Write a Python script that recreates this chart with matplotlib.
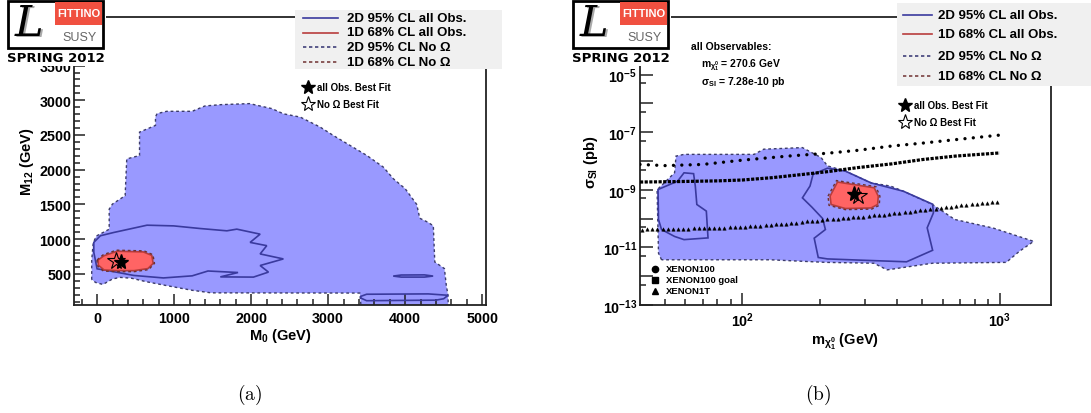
import numpy as np
import matplotlib.pyplot as plt
import matplotlib.transforms as mtransforms
from matplotlib.patches import Rectangle
from matplotlib.lines import Line2D
from matplotlib.ticker import FixedLocator, FuncFormatter, NullFormatter, MultipleLocator

plt.rcParams['font.family'] = ['Liberation Sans', 'DejaVu Sans']
plt.rcParams['font.weight'] = 'bold'
plt.rcParams['axes.labelweight'] = 'bold'
plt.rcParams['mathtext.fontset'] = 'custom'
plt.rcParams['mathtext.rm'] = 'Liberation Sans:bold'
plt.rcParams['mathtext.it'] = 'Liberation Sans:bold:italic'
plt.rcParams['mathtext.bf'] = 'Liberation Sans:bold'
plt.rcParams['mathtext.sf'] = 'Liberation Sans:bold'

# ---------------- panel (a): M0 / M12 plane (GeV) ----------------
outer_a_m0 = [-70, -70, -50, -8, 157, 157, 199, 364, 385, 551, 551, 758, 758, 778, 903,
              1234, 1400, 1607, 1979, 2269, 2420, 2637, 2896, 3067, 3285, 3502, 3717, 3847,
              4001, 4090, 4150, 4190, 4300, 4366, 4385, 4510, 4535, 4557, 4560, 3430, 3411,
              1482, 1234, 900, 640, 450, 300, 200, 75, -20]
outer_a_m12 = [418, 700, 949, 1045, 1142, 1431, 1504, 1625, 2155, 2204, 2541, 2638, 2759, 2807, 2841,
               2841, 2918, 2937, 2952, 2880, 2805, 2758, 2614, 2493, 2349, 2205, 2037, 1869,
               1725, 1590, 1500, 1300, 1240, 1190, 670, 575, 330, 190, 0, 0, 222,
               225, 262, 330, 385, 435, 448, 425, 346, 375]

inner_a_m0 = [-43, 43, 216, 648, 994, 1339, 1685, 1814, 2117, 1987, 2203, 2117, 2419, 2117,
              2225, 2030, 1600, 1830, 1440, 1234, 861, 475, 130, 0, -43]
inner_a_m12 = [952, 1048, 1095, 1200, 1190, 1152, 1119, 1143, 1071, 952, 905, 786, 714, 619,
               524, 452, 455, 518, 540, 470, 440, 476, 548, 571, 810]

island_a_m0 = [3845, 3950, 4250, 4363, 4250, 3950]
island_a_m12 = [467, 482, 484, 467, 452, 452]

strip_a_m0 = [3425, 3500, 4300, 4557, 4500, 4400, 3500, 3425]
strip_a_m12 = [175, 205, 210, 190, 140, 120, 112, 150]

red_a_m0 = [15, 90, 260, 600, 710, 728, 660, 480, 260, 90, 15]
red_a_m12 = [700, 760, 825, 815, 765, 650, 575, 545, 545, 555, 625]
red2_a_m0 = [0, 80, 250, 610, 725, 745, 670, 480, 250, 80, 0]
red2_a_m12 = [700, 775, 840, 830, 775, 650, 560, 530, 530, 540, 620]

best_a = (313, 672)
best_noomega_a = (240, 690)

# ---------------- panel (b): neutralino mass (GeV) / log10 sigma_SI (pb) ----------------
outer_b_m = [48.5, 47.2, 46.6, 54.5, 55.2, 59.3, 111, 121, 171, 202, 214, 251, 316, 376, 422,
             547, 668, 944, 1353, 1189, 1059, 547, 365, 324, 211, 128]
outer_b_ls = [-11.43, -11.2, -9.0, -8.41, -7.83, -7.77, -7.77, -7.59, -7.535, -7.88, -8.17,
              -8.35, -8.76, -8.87, -9.05, -9.51, -10.03, -10.33, -10.79, -11.14, -11.52,
              -11.55, -11.78, -11.55, -11.52, -11.43]

inner_b_left_m = [47, 56, 59.3, 64.6, 65.6, 66.5, 72.4, 73.5, 59.3, 54.5, 48.5, 47.2]
inner_b_left_ls = [-8.99, -8.70, -8.41, -8.44, -8.87, -9.51, -9.74, -10.67, -10.73, -10.62,
                   -10.38, -10.03]

inner_b_right_m = [188, 183, 171, 186, 205, 210, 190, 197, 214, 282, 434, 548, 522, 552, 548,
                   422, 316, 251, 214, 200]
inner_b_right_ls = [-8.47, -8.87, -9.28, -9.6, -10.0, -10.38, -10.68, -11.35, -11.4, -11.44,
                    -11.5, -11.1, -10.32, -9.8, -9.5, -9.05, -8.76, -8.35, -8.25, -8.36]

red_b_m = [219, 234, 325, 337, 335, 316, 251, 221]
red_b_ls = [-9.22, -8.73, -8.93, -9.22, -9.51, -9.63, -9.65, -9.51]
red2_b_m = [215, 232, 330, 342, 340, 318, 251, 217]
red2_b_ls = [-9.22, -8.68, -8.89, -9.22, -9.54, -9.67, -9.69, -9.54]

best_b = (270.6, 7.28e-10)
best_noomega_b = (281, 6.3e-10)

xenon100_m = [40, 50, 70, 100, 150, 214, 280, 380, 500, 670, 1000]
xenon100_ls = [-8.12, -8.16, -8.12, -7.97, -7.83, -7.73, -7.63, -7.48, -7.38, -7.26, -7.10]

xenon100goal_m = [40, 50, 60, 80, 100, 130, 170, 214, 280, 380, 500, 670, 1000]
xenon100goal_ls = [-8.73, -8.72, -8.71, -8.69, -8.66, -8.58, -8.47, -8.37, -8.23, -8.10,
                   -7.95, -7.83, -7.72]

xenon1t_lm = [1.61, 1.63, 1.65, 1.67, 1.69, 1.71, 1.73, 1.75, 1.77, 1.79, 1.81, 1.83, 1.85,
              1.87, 1.89, 1.91, 1.93, 1.95, 1.97, 1.99, 2.01, 2.03, 2.05, 2.07, 2.09, 2.11,
              2.13, 2.15, 2.17, 2.19, 2.21, 2.23, 2.25, 2.27, 2.29, 2.31, 2.33, 2.35, 2.37,
              2.39, 2.41, 2.43, 2.45, 2.47, 2.49, 2.51, 2.53, 2.55, 2.57, 2.59, 2.61, 2.63,
              2.65, 2.67, 2.69, 2.71, 2.73, 2.75, 2.77, 2.79, 2.81, 2.83, 2.85, 2.87, 2.89,
              2.91, 2.93, 2.95, 2.97, 2.99]
xenon1t_ls = [-10.38, -10.37, -10.37, -10.37, -10.36, -10.36, -10.36, -10.36, -10.35, -10.35,
              -10.34, -10.34, -10.33, -10.32, -10.32, -10.31, -10.31, -10.30, -10.30, -10.29,
              -10.28, -10.27, -10.26, -10.24, -10.23, -10.22, -10.20, -10.19, -10.18, -10.16,
              -10.14, -10.12, -10.10, -10.09, -10.07, -10.05, -10.03, -10.02, -10.00, -9.99,
              -9.97, -9.96, -9.94, -9.93, -9.91, -9.89, -9.87, -9.86, -9.84, -9.82, -9.80,
              -9.78, -9.76, -9.73, -9.71, -9.69, -9.67, -9.65, -9.63, -9.61, -9.59, -9.57,
              -9.54, -9.52, -9.51, -9.49, -9.47, -9.45, -9.43, -9.41]

legend_labels = ['2D 95% CL all Obs.', '1D 68% CL all Obs.', '2D 95% CL No Ω', '1D 68% CL No Ω']
xenon_labels = ['XENON100', 'XENON100 goal', 'XENON1T']

FILL_BLUE = '#9999ff'
LINE_BLUE = '#3a3a9e'
DOT_EDGE = '#3c3c6a'
FILL_RED = '#ff6464'
LINE_RED = '#b83c3c'

W, H = 1091, 414
fig = plt.figure(figsize=(W / 100, H / 100), dpi=100)
px = mtransforms.Affine2D().scale(1 / W, -1 / H).translate(0, 1) + fig.transFigure


def frac(l, t, r, b):
    return [l / W, 1 - b / H, (r - l) / W, (b - t) / H]


axa = fig.add_axes(frac(74, 18, 486, 306))
axb = fig.add_axes(frac(640, 18, 1051, 306))

for ax in (axa, axb):
    for s in ax.spines.values():
        s.set_linewidth(1.3)
        s.set_color('#222222')
    ax.tick_params(which='both', direction='in', top=False, right=False,
                   color='#222222', width=1.1, labelsize=10.3)

# ---- panel (a)
axa.fill(outer_a_m0, outer_a_m12, fc=FILL_BLUE, ec=DOT_EDGE, lw=1.0, ls=(0, (2, 2)), zorder=1)
axa.fill(inner_a_m0, inner_a_m12, fill=False, ec=LINE_BLUE, lw=1.2, zorder=2)
axa.fill(island_a_m0, island_a_m12, fill=False, ec=LINE_BLUE, lw=1.2, zorder=2)
axa.fill(strip_a_m0, strip_a_m12, fill=False, ec=LINE_BLUE, lw=1.2, zorder=2)
axa.fill(red_a_m0, red_a_m12, fc=FILL_RED, ec=LINE_RED, lw=1.2, zorder=3)
axa.fill(red2_a_m0, red2_a_m12, fill=False, ec='#6e3030', lw=1.0, ls=(0, (2, 2)), zorder=3)
axa.plot(*best_noomega_a, marker='*', ms=13, mfc='none', mec='k', mew=0.8, ls='none', zorder=5)
axa.plot(*best_a, marker='*', ms=11, color='k', ls='none', zorder=5)

axa.set_xlim(-300, 5050)
axa.set_ylim(50, 4200)
axa.xaxis.set_major_locator(FixedLocator([0, 1000, 2000, 3000, 4000, 5000]))
axa.xaxis.set_minor_locator(MultipleLocator(200))
axa.yaxis.set_major_locator(MultipleLocator(500))
# the 4000 label sits under the logo, as in the original
axa.yaxis.set_major_formatter(FuncFormatter(lambda v, p: '%d' % v if v < 3900 else ''))
axa.yaxis.set_minor_locator(MultipleLocator(100))
axa.tick_params(which='major', length=8)
axa.tick_params(which='minor', length=4)
axa.tick_params(axis='x', pad=4)
axa.tick_params(axis='y', pad=2)
axa.set_xlabel('M$_0$ (GeV)', fontsize=10.5, labelpad=1)
axa.set_ylabel('M$_{12}$ (GeV)', fontsize=10.5, labelpad=2)

# ---- panel (b)
axb.set_xscale('log')
axb.set_yscale('log')
axb.fill(outer_b_m, 10 ** np.array(outer_b_ls), fc=FILL_BLUE, ec=DOT_EDGE, lw=1.0,
         ls=(0, (2, 2)), zorder=1)
axb.fill(inner_b_left_m, 10 ** np.array(inner_b_left_ls), fill=False, ec=LINE_BLUE, lw=1.2, zorder=2)
axb.fill(inner_b_right_m, 10 ** np.array(inner_b_right_ls), fill=False, ec=LINE_BLUE, lw=1.2, zorder=2)
axb.fill(red_b_m, 10 ** np.array(red_b_ls), fc=FILL_RED, ec=LINE_RED, lw=1.2, zorder=3)
axb.fill(red2_b_m, 10 ** np.array(red2_b_ls), fill=False, ec='#6e3030', lw=1.0, ls=(0, (2, 2)), zorder=3)
axb.plot(xenon100_m, 10 ** np.array(xenon100_ls), color='k', lw=2.4, ls=(0, (0.01, 2.5)),
         dash_capstyle='round', zorder=4)
axb.plot(xenon100goal_m, 10 ** np.array(xenon100goal_ls), color='k', lw=2.3, ls=(0, (1.0, 0.45)),
         dash_capstyle='butt', zorder=4)
axb.plot(10 ** np.array(xenon1t_lm), 10 ** np.array(xenon1t_ls), marker='^', ms=2.5, mew=0.3,
         color='k', ls='none', zorder=4)
axb.plot(*best_noomega_b, marker='*', ms=13, mfc='none', mec='k', mew=0.8, ls='none', zorder=5)
axb.plot(*best_b, marker='*', ms=11, color='k', ls='none', zorder=5)

axb.set_xlim(40, 1580)
axb.set_ylim(1e-13, 1e-3)
axb.xaxis.set_major_locator(FixedLocator([100, 1000]))
axb.xaxis.set_major_formatter(FuncFormatter(lambda v, p: r'$10^{%d}$' % round(np.log10(v))))
axb.xaxis.set_minor_locator(FixedLocator([50, 60, 70, 80, 90, 200, 300, 400, 500, 600, 700, 800, 900]))
axb.xaxis.set_minor_formatter(NullFormatter())
axb.yaxis.set_major_locator(FixedLocator([10.0 ** k for k in range(-13, -2)]))
axb.yaxis.set_major_formatter(FuncFormatter(
    lambda v, p: r'$10^{%d}$' % round(np.log10(v)) if (round(np.log10(v)) % 2 and v < 1e-4) else ''))
axb.yaxis.set_minor_locator(FixedLocator([5 * 10.0 ** k for k in range(-14, -3)]))
axb.yaxis.set_minor_formatter(NullFormatter())
axb.tick_params(which='major', length=9)
axb.tick_params(which='minor', length=4)
axb.tick_params(axis='x', pad=4)
axb.tick_params(axis='y', pad=2)
axb.set_xlabel(r'$\mathrm{m_{\chi^0_1}}$ (GeV)', fontsize=10.5, labelpad=1)
axb.set_ylabel(r'$\mathrm{\sigma_{SI}}$ (pb)', fontsize=10.5, labelpad=2)

for ax in (axa, axb):
    for lab in ax.get_xticklabels() + ax.get_yticklabels():
        lab.set_fontweight('bold')


# ---- overlays drawn in pixel coordinates
def logo(x0):
    fig.add_artist(Rectangle((x0 - 4, 0), 102, 67, transform=px, fc='white', ec='none', zorder=6))
    fig.add_artist(Rectangle((x0, 1.5), 95, 47, transform=px, fc='white', ec='black', lw=2.0, zorder=6))
    fig.add_artist(Rectangle((x0 + 47, 2.5), 47, 23, transform=px, fc='#f05040', ec='none', zorder=6))
    fig.text(x0 + 70.5, 14, 'FITTINO', transform=px, ha='center', va='center', color='white',
             fontsize=8, zorder=7)
    fig.text(x0 + 72, 38, 'SUSY', transform=px, ha='center', va='center', color='#666666',
             fontsize=9, weight='normal', zorder=7)
    fig.text(x0 + 23, 25, 'L', transform=px, ha='center', va='center', color='#aaaaaa',
             fontsize=31, family='DejaVu Serif', style='italic', weight='normal', zorder=7)
    fig.text(x0 + 21, 24, 'L', transform=px, ha='center', va='center', color='black',
             fontsize=31, family='DejaVu Serif', style='italic', weight='normal', zorder=7)
    fig.text(x0 + 47.5, 59, 'SPRING 2012', transform=px, ha='center', va='center', color='black',
             fontsize=9.5, family='DejaVu Sans', zorder=7)


def legend_box(l, t, r, b, rows_y, x0, x1, xt):
    fig.add_artist(Rectangle((l, t), r - l, b - t, transform=px, fc='#f0f0f0', ec='none', zorder=6))
    styles = [(LINE_BLUE, '-'), (LINE_RED, '-'), ('#40407a', (0, (2, 1.6))), ('#7a4040', (0, (2, 1.6)))]
    for y, lab, (c, ls) in zip(rows_y, legend_labels, styles):
        fig.add_artist(Line2D([x0, x1], [y, y], transform=px, color=c, ls=ls, lw=1.2, zorder=7))
        fig.text(xt, y, lab, transform=px, ha='left', va='center', fontsize=9.5, zorder=7)


def star_legend(xs, y1, y2):
    fig.add_artist(Line2D([xs], [y1], transform=px, marker='*', ms=10, color='k', ls='none', zorder=7))
    fig.add_artist(Line2D([xs], [y2], transform=px, marker='*', ms=11, mfc='none', mec='k',
                          mew=0.8, ls='none', zorder=7))
    fig.text(xs + 9, y1, 'all Obs. Best Fit', transform=px, ha='left', va='center', fontsize=7, zorder=7)
    fig.text(xs + 9, y2, 'No Ω Best Fit', transform=px, ha='left', va='center', fontsize=7, zorder=7)


logo(8)
logo(573)
legend_box(295, 11, 502, 70, [18.5, 33.5, 48, 62.5], 303, 338, 347)
legend_box(897, 4, 1091, 87, [16, 35, 56.5, 77], 903, 932, 938.5)
star_legend(308, 88, 105)
star_legend(905, 106, 123)

fig.text(691, 47, 'all Observables:', transform=px, ha='left', va='center', fontsize=7.5, zorder=7)
fig.text(701, 65, r'$\mathrm{m_{\chi^0_1}}$ = 270.6 GeV', transform=px, ha='left', va='center',
         fontsize=7.5, zorder=7)
fig.text(701, 82, r'$\mathrm{\sigma_{SI}}$ = 7.28e-10 pb', transform=px, ha='left', va='center',
         fontsize=7.5, zorder=7)

for (mk, y), lab in zip([('o', 270), ('s', 280.5), ('^', 292)], xenon_labels):
    fig.add_artist(Line2D([655], [y], transform=px, marker=mk, ms=4.5, color='k', ls='none', zorder=7))
    fig.text(665.5, y, lab, transform=px, ha='left', va='center', fontsize=6.8, zorder=7)

fig.text(250, 395, r'$\mathrm{(a)}$', transform=px, ha='center', va='center', fontsize=14,
         math_fontfamily='cm')
fig.text(818, 395, r'$\mathrm{(b)}$', transform=px, ha='center', va='center', fontsize=14,
         math_fontfamily='cm')

fig.savefig('out.png', dpi=100)
